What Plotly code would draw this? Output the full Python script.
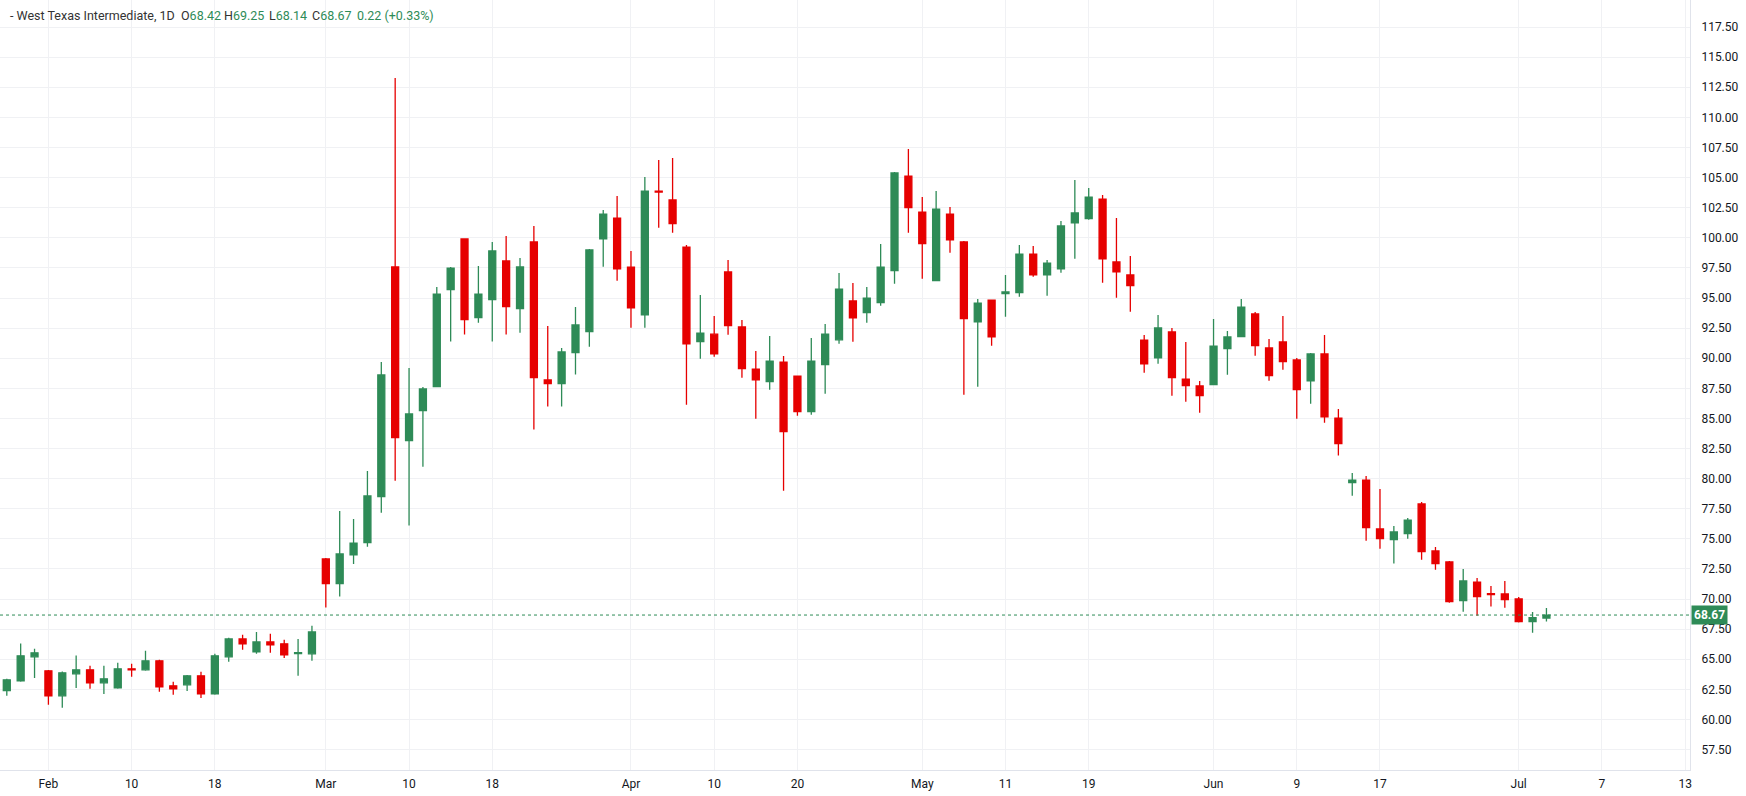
import plotly.graph_objects as go

# ---- data ----
open_ = [62.40, 63.20, 65.20, 64.04, 61.96, 63.79, 64.12, 63.04, 62.62, 64.20,
         64.12, 64.87, 62.79, 62.87, 63.62, 62.12, 65.20, 66.69, 65.61, 66.44,
         66.28, 65.47, 65.45, 73.33, 71.29, 73.66, 74.68, 78.50, 97.58, 83.15,
         85.65, 87.64, 95.70, 99.90, 93.37, 94.86, 98.08, 94.12, 99.65, 88.19,
         87.89, 90.46, 92.21, 99.92, 101.64, 97.57, 93.61, 103.88, 103.14, 99.23,
         91.37, 92.00, 97.16, 92.59, 89.10, 88.05, 89.68, 88.52, 85.56, 89.46,
         91.53, 94.75, 93.78, 94.61, 97.27, 105.13, 102.14, 96.44, 101.97, 99.65,
         93.03, 94.83, 95.36, 95.44, 98.65, 96.93, 97.43, 101.25, 101.59, 103.22,
         97.99, 96.91, 91.51, 90.04, 92.18, 88.27, 87.69, 87.80, 90.79, 91.79,
         93.67, 90.85, 91.35, 89.85, 88.13, 90.35, 85.03, 79.66, 79.88, 75.82,
         74.93, 75.43, 77.89, 73.99, 73.08, 69.86, 71.41, 70.45, 70.42, 70.00,
         68.12, 68.42]
high = [63.37, 66.31, 65.86, 64.10, 63.98, 65.31, 64.45, 64.45, 64.70, 64.62,
        65.70, 64.95, 63.12, 63.70, 63.95, 65.45, 66.78, 67.03, 67.27, 67.11,
        66.61, 66.69, 67.77, 73.40, 77.31, 76.65, 80.64, 89.69, 113.27, 89.19,
        87.61, 95.92, 97.58, 99.95, 97.66, 99.65, 100.15, 98.33, 100.98, 92.68,
        90.85, 94.26, 99.07, 102.30, 103.47, 98.90, 105.05, 106.46, 106.62, 99.40,
        95.24, 93.50, 98.15, 93.17, 90.60, 91.84, 90.18, 88.55, 91.67, 92.84,
        97.07, 96.24, 95.91, 99.48, 105.46, 107.37, 103.38, 103.88, 102.55, 99.73,
        94.91, 94.85, 96.91, 99.40, 99.31, 98.15, 101.39, 104.80, 104.13, 103.55,
        101.64, 98.48, 91.92, 93.59, 92.51, 91.35, 88.11, 93.26, 92.26, 94.92,
        93.84, 91.59, 93.50, 90.02, 90.43, 91.93, 85.78, 80.47, 80.22, 79.14,
        76.07, 76.73, 78.06, 74.32, 73.16, 72.49, 71.75, 71.08, 71.50, 70.17,
        68.92, 69.25]
low = [61.96, 63.12, 63.45, 61.21, 60.96, 62.62, 62.54, 62.12, 62.54, 63.54,
       64.04, 62.29, 62.04, 62.37, 61.79, 62.04, 64.78, 65.78, 65.45, 65.53,
       65.11, 63.62, 64.87, 69.30, 70.21, 72.90, 74.35, 77.17, 79.83, 76.10,
       80.99, 87.60, 91.38, 91.96, 92.95, 91.38, 91.96, 92.12, 84.07, 85.98,
       85.98, 88.64, 90.96, 97.60, 96.44, 92.53, 92.53, 100.84, 100.42, 86.14,
       89.96, 90.12, 91.95, 88.38, 84.97, 87.38, 79.00, 85.22, 85.31, 87.05,
       91.20, 91.37, 92.95, 94.36, 96.19, 100.42, 96.60, 96.40, 98.76, 86.97,
       87.63, 91.04, 93.45, 95.11, 96.77, 95.19, 97.10, 98.26, 101.50, 96.27,
       95.02, 93.86, 88.79, 89.55, 86.89, 86.39, 85.48, 87.75, 88.63, 91.75,
       90.21, 88.13, 89.05, 84.98, 86.22, 84.64, 81.91, 78.58, 74.85, 74.18,
       72.94, 75.01, 73.27, 72.44, 69.70, 68.95, 68.62, 69.37, 69.28, 68.04,
       67.20, 68.14]
close = [63.29, 65.28, 65.53, 61.96, 63.87, 64.12, 63.04, 63.37, 64.20, 64.12,
         64.87, 62.71, 62.54, 63.62, 62.12, 65.28, 66.69, 66.28, 66.44, 66.19,
         65.36, 65.55, 67.27, 71.29, 73.74, 74.65, 78.56, 88.61, 83.40, 85.37,
         87.45, 95.33, 97.49, 93.20, 95.33, 98.91, 94.28, 97.58, 88.39, 87.89,
         90.52, 92.76, 98.99, 101.97, 97.43, 94.19, 103.88, 103.80, 101.17, 91.20,
         92.09, 90.37, 92.70, 89.13, 88.21, 89.76, 83.90, 85.56, 89.76, 92.00,
         95.74, 93.36, 94.99, 97.57, 105.38, 102.50, 99.51, 102.39, 99.84, 93.28,
         94.58, 91.78, 95.50, 98.65, 96.93, 97.90, 100.98, 102.06, 103.38, 98.26,
         97.18, 96.02, 89.54, 92.51, 88.38, 87.72, 86.89, 91.01, 91.76, 94.25,
         91.04, 88.55, 89.71, 87.39, 90.35, 85.14, 82.90, 79.88, 75.93, 75.01,
         75.57, 76.56, 73.93, 72.94, 69.78, 71.50, 70.20, 70.36, 69.95, 68.12,
         68.45, 68.67]

# header change values as printed on the reference
change_abs = 0.22
change_pct = 0.33

tick_labels = ["Feb", "10", "18", "Mar", "10", "18", "Apr", "10", "20",
               "May", "11", "19", "Jun", "9", "17", "Jul", "7", "13"]
tick_slots = [3, 9, 15, 23, 29, 35, 45, 51, 57, 66, 72, 78, 87, 93, 99, 109, 115, 121]

price_ticks = [57.5 + 2.5 * k for k in range(25)]

GREEN = "#2e8b57"
RED = "#e60000"
TXT = "#131722"
HDR = "#333333"
GRID = "#f0f1f4"
FONT = "Roboto"

idx = list(range(len(close)))
last = close[-1]

fig = go.Figure()
fig.add_trace(go.Candlestick(
    x=idx, open=open_, high=high, low=low, close=close,
    increasing=dict(line=dict(color=GREEN, width=1.3), fillcolor=GREEN),
    decreasing=dict(line=dict(color=RED, width=1.3), fillcolor=RED),
    whiskerwidth=0, showlegend=False, hoverinfo="skip",
))

fig.add_hline(y=last, line=dict(color=GREEN, width=1, dash="dot"))

fig.add_annotation(
    xref="paper", x=1, xanchor="left", xshift=1,
    yref="y", y=last, yanchor="middle",
    text="<b>%.2f</b>" % last, showarrow=False,
    bgcolor=GREEN, font=dict(color="white", size=12, family=FONT),
    borderpad=2,
)

def g(v):
    return "<span style='color:%s'>%s</span>" % (GREEN, v)

header_parts = [
    ("- West Texas Intermediate, 1D", 9),
    ("O" + g("%.2f" % open_[-1]), 180),
    ("H" + g("%.2f" % high[-1]), 223),
    ("L" + g("%.2f" % low[-1]), 268),
    ("C" + g("%.2f" % close[-1]), 311),
    (g("%.2f (+%.2f%%)" % (change_abs, change_pct)), 356),
]
for txt, px in header_parts:
    fig.add_annotation(
        xref="paper", x=0, xanchor="left", xshift=px,
        yref="paper", y=1, yanchor="top", yshift=-7,
        text=txt, showarrow=False, align="left", borderpad=0,
        font=dict(color=HDR, size=12.5, family=FONT),
    )

fig.update_layout(
    width=1746, height=796,
    margin=dict(l=0, r=56, t=0, b=26),
    paper_bgcolor="white", plot_bgcolor="white",
    font=dict(family=FONT, color=TXT, size=12),
    boxgap=0.28,
    xaxis=dict(
        range=[-0.49, 121.35], tickmode="array", tickvals=tick_slots, ticktext=tick_labels,
        showgrid=True, gridcolor=GRID, gridwidth=1, zeroline=False,
        showline=True, linecolor="#e0e3eb", linewidth=1, mirror=False,
        ticks="", ticklabelstandoff=3, tickfont=dict(size=12, color=TXT),
        rangeslider=dict(visible=False), fixedrange=True,
    ),
    yaxis=dict(
        side="right", range=[55.80, 119.75], tickmode="array", tickvals=price_ticks,
        tickformat=".2f", showgrid=True, gridcolor=GRID, gridwidth=1, zeroline=False,
        showline=True, linecolor="#e0e3eb", linewidth=1,
        ticks="", ticklabelstandoff=8, tickfont=dict(size=12, color=TXT),
        fixedrange=True,
    ),
)

fig.write_html("out.html")
